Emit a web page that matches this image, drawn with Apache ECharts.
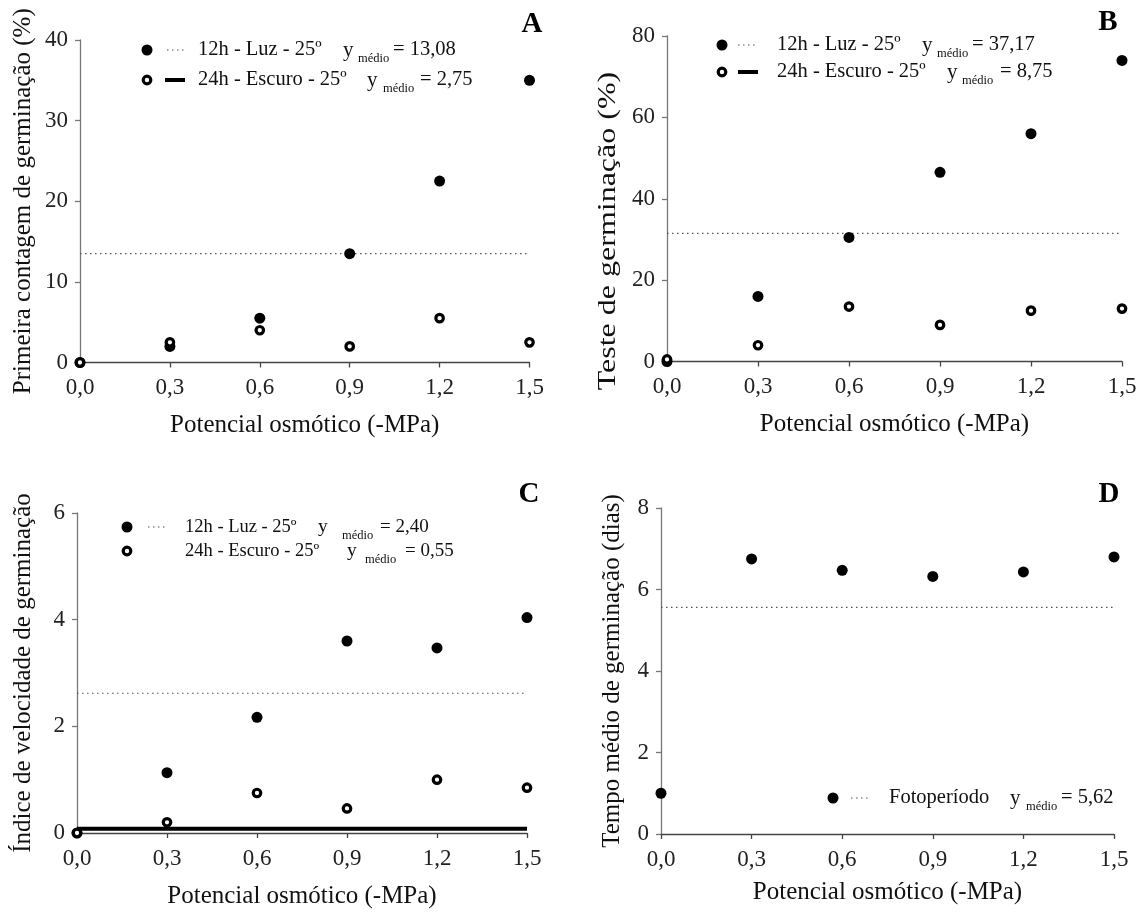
<!DOCTYPE html>
<html>
<head>
<meta charset="utf-8">
<script src="https://cdn.jsdelivr.net/npm/echarts@6/dist/echarts.min.js"></script>
<style>html,body{margin:0;padding:0;background:#fff}#c{width:1140px;height:912px}</style>
</head>
<body>
<div id="c"></div>
<script>
// ---- data ----
const xVals = [0, 0.3, 0.6, 0.9, 1.2, 1.5];
const xTicks = ['0,0', '0,3', '0,6', '0,9', '1,2', '1,5'];
// Panel A: Primeira contagem de germinação (%)
const a12 = [0, 2, 5.5, 13.5, 22.5, 35];
const a24 = [0, 2.5, 4, 2, 5.5, 2.5];
const aMean12 = 13.5;
// Panel B: Teste de germinação (%)
const b12 = [0, 16, 30.5, 46.5, 56, 74];
const b24 = [0.5, 4, 13.5, 9, 12.5, 13];
const bMean12 = 31.5;
// Panel C: Índice de velocidade de germinação
const c12 = [0, 1.13, 2.17, 3.6, 3.47, 4.04];
const c24 = [0, 0.2, 0.75, 0.46, 1.0, 0.85];
const cMean12 = 2.62;
const cMean24 = 0.08;
// Panel D: Tempo médio de germinação (dias)
const dFoto = [1.0, 6.75, 6.47, 6.32, 6.43, 6.8];
const dMean = 5.56;

const FONT = 'Liberation Serif';
const pairs = arr => xVals.map((x, i) => [x, arr[i]]);
const meanLine = m => [[xVals[0], m], [xVals[xVals.length - 1], m]];

function xAxis(gi, gap) {
  return {
    type: 'value', gridIndex: gi, min: 0, max: 1.5, interval: 0.3,
    name: 'Potencial osmótico (-MPa)', nameLocation: 'middle', nameGap: gap,
    nameTextStyle: {fontFamily: FONT, fontSize: 25, color: '#111'},
    axisLine: {show: true, onZero: false, lineStyle: {color: '#444', width: 1.3}},
    axisTick: {show: true, length: 5, lineStyle: {color: '#444', width: 1.3}},
    axisLabel: {fontFamily: FONT, fontSize: 23, color: '#222', margin: 14,
      formatter: v => xTicks[Math.round(v / 0.3)]},
    splitLine: {show: false}
  };
}
function yAxis(gi, max, interval, name, gap) {
  return {
    type: 'value', gridIndex: gi, min: 0, max: max, interval: interval,
    name: name, nameLocation: 'middle', nameGap: gap,
    nameTextStyle: {fontFamily: FONT, fontSize: 25, color: '#111'},
    axisLine: {show: true, onZero: false, lineStyle: {color: '#777', width: 1.3}},
    axisTick: {show: true, length: 5, lineStyle: {color: '#777', width: 1.3}},
    axisLabel: {fontFamily: FONT, fontSize: 23, color: '#222', margin: 12},
    splitLine: {show: false}
  };
}
function filled(gi, arr) {
  return {type: 'scatter', xAxisIndex: gi, yAxisIndex: gi, data: pairs(arr), clip: false,
    symbol: 'circle', symbolSize: 11, itemStyle: {color: '#000', opacity: 1}, z: 3};
}
function open(gi, arr) {
  return {type: 'scatter', xAxisIndex: gi, yAxisIndex: gi, data: pairs(arr), clip: false,
    symbol: 'circle', symbolSize: 7.5, itemStyle: {color: '#fff', borderColor: '#000', borderWidth: 3.2, opacity: 1}, z: 4};
}
function dotted(gi, m) {
  return {type: 'line', xAxisIndex: gi, yAxisIndex: gi, data: meanLine(m), symbol: 'none',
    lineStyle: {color: '#555', width: 1.2, type: [1.5, 3.5]}, z: 2};
}
function solid(gi, m) {
  return {type: 'line', xAxisIndex: gi, yAxisIndex: gi, data: meanLine(m), symbol: 'none',
    lineStyle: {color: '#000', width: 4}, z: 2};
}

// ---- legend graphics helpers ----
const G = [];
function txt(x, y, s, size, extra) {
  G.push(Object.assign({type: 'text', x: x, y: y, style: {text: s, fontFamily: FONT, fontSize: size || 20.5,
    fill: '#111', verticalAlign: 'middle', align: 'left'}}, extra || {}));
}
function dotC(x, y) { G.push({type: 'circle', shape: {cx: x, cy: y, r: 5.5}, style: {fill: '#000'}}); }
function ringC(x, y) { G.push({type: 'circle', shape: {cx: x, cy: y, r: 3.8}, style: {fill: '#fff', stroke: '#000', lineWidth: 3.2}}); }
function dotL(x1, x2, y) { G.push({type: 'line', shape: {x1: x1, y1: y, x2: x2, y2: y}, style: {stroke: '#555', lineWidth: 1.2, lineDash: [1.5, 3.5]}}); }
function solL(x1, x2, y) { G.push({type: 'line', shape: {x1: x1, y1: y, x2: x2, y2: y}, style: {stroke: '#000', lineWidth: 4}}); }
function ymed(xy, xm, xe, y, val, size) {
  txt(xy, y, 'y', (size || 20.5) + 0.5); txt(xm, y + 9, 'médio', 12.5); txt(xe, y, '= ' + val, size || 20.5);
}
function letter(x, y, s) {
  G.push({type: 'text', x: x, y: y, style: {text: s, fontFamily: FONT, fontSize: 29, fontWeight: 'bold',
    fill: '#000', align: 'center', verticalAlign: 'middle'}});
}

// Panel A legend
dotC(147, 50); dotL(167, 187, 50); txt(198, 50, '12h - Luz - 25º'); ymed(343, 358, 393, 50, '13,08');
ringC(147, 80); solL(165, 185, 80); txt(198, 80, '24h - Escuro - 25º'); ymed(367, 383, 420, 80, '2,75');
letter(532, 25, 'A');
// Panel B legend
dotC(722, 45); dotL(738, 758, 45); txt(777, 45, '12h - Luz - 25º'); ymed(922, 937, 972, 45, '37,17');
ringC(722, 72); solL(738, 758, 72); txt(777, 72, '24h - Escuro - 25º'); ymed(947, 962, 1000, 72, '8,75');
letter(1108, 23, 'B');
// Panel B y title (stretched like the reference)
G.push({type: 'text', x: 608, y: 231, rotation: Math.PI / 2, scaleX: 1.28,
  style: {text: 'Teste de germinação (%)', fontFamily: FONT, fontSize: 25, fill: '#111', align: 'center', verticalAlign: 'middle'}});
// Panel C legend
dotC(127, 527); dotL(148, 168, 527); txt(185, 527, '12h - Luz - 25º', 18.5); ymed(318, 342, 380, 527, '2,40', 19);
ringC(127, 551); txt(185, 551, '24h - Escuro - 25º', 18.5); ymed(347, 365, 405, 551, '0,55', 19);
letter(529, 495, 'C');
// Panel D legend
dotC(833, 798); dotL(851, 871, 798); txt(889, 798, 'Fotoperíodo'); ymed(1010, 1026, 1061, 798, '5,62');
letter(1109, 495, 'D');

const option = {
  backgroundColor: '#fff',
  animation: false,
  textStyle: {fontFamily: FONT},
  grid: [
    {left: 80, top: 40, width: 449.5, height: 322.5},
    {left: 667, top: 36, width: 455, height: 325.5},
    {left: 77, top: 513, width: 450, height: 320},
    {left: 661, top: 508, width: 453, height: 326}
  ],
  xAxis: [xAxis(0, 50), xAxis(1, 50), xAxis(2, 51), xAxis(3, 46)],
  yAxis: [
    yAxis(0, 40, 10, 'Primeira contagem de germinação (%)', 44),
    Object.assign(yAxis(1, 80, 20, '', 46), {name: ''}),
    yAxis(2, 6, 2, 'Índice de velocidade de germinação', 41),
    yAxis(3, 8, 2, 'Tempo médio de germinação (dias)', 36)
  ],
  series: [
    dotted(0, aMean12), filled(0, a12), open(0, a24),
    dotted(1, bMean12), filled(1, b12), open(1, b24),
    dotted(2, cMean12), solid(2, cMean24), filled(2, c12), open(2, c24),
    dotted(3, dMean), filled(3, dFoto)
  ],
  graphic: G
};
const chart = echarts.init(document.getElementById('c'), null, {renderer: 'canvas'});
chart.setOption(option);
</script>
</body>
</html>
